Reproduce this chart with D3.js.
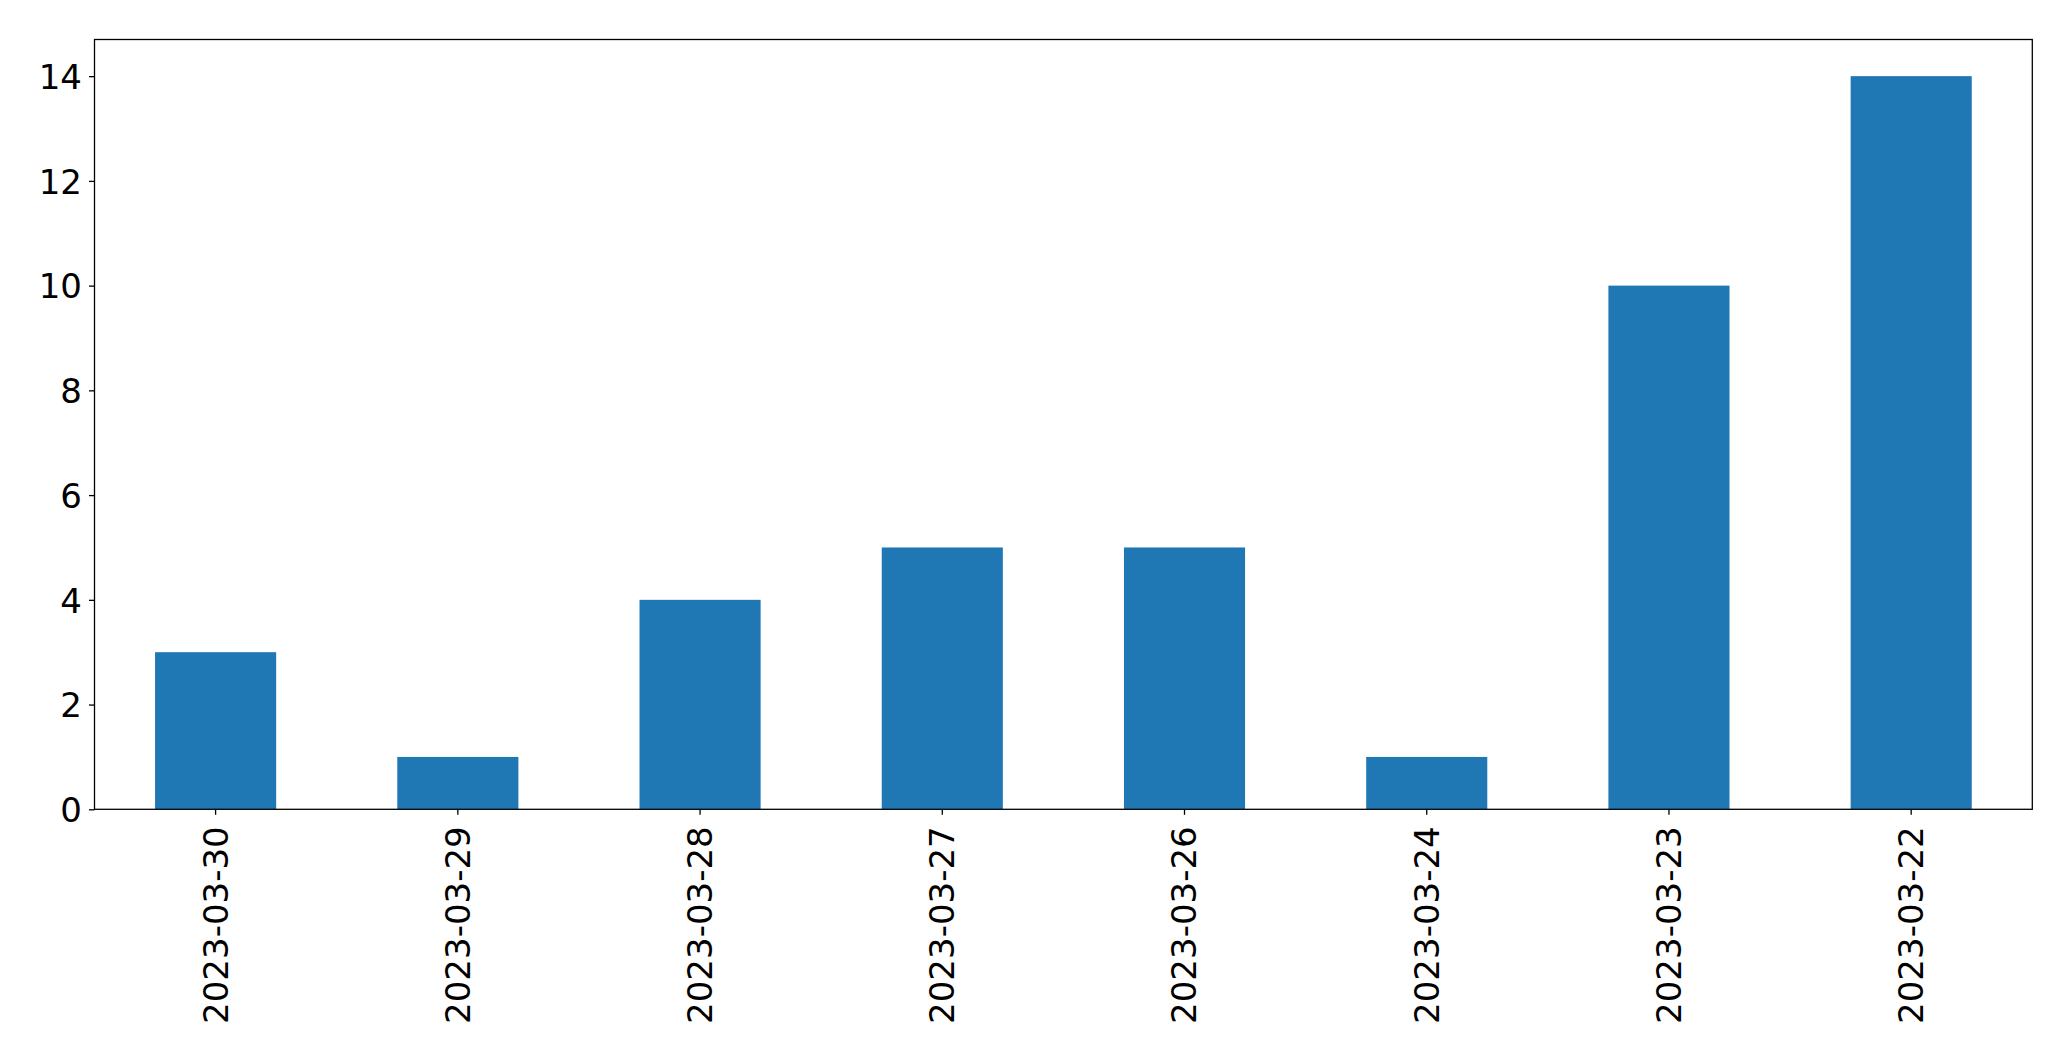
<!DOCTYPE html>
<html>
<head>
<meta charset="utf-8">
<script src="https://cdn.jsdelivr.net/npm/d3@7"></script>
<style>
  html, body { margin: 0; padding: 0; background: #fff; }
  svg { display: block; }
  text { font-family: "DejaVu Sans", sans-serif; fill: #000; }
</style>
</head>
<body>
<script>
const categories = ["2023-03-30", "2023-03-29", "2023-03-28", "2023-03-27", "2023-03-26", "2023-03-24", "2023-03-23", "2023-03-22"];
const values = [3, 1, 4, 5, 5, 1, 10, 14];
const yTicks = [0, 2, 4, 6, 8, 10, 12, 14];

const W = 2071, H = 1061;
const margin = { left: 94.5, right: W - 2032.3, top: 39.5, bottom: H - 809.3 };
const fontSize = 34;

const svg = d3.select("body").append("svg").attr("width", W).attr("height", H);

const x = d3.scaleBand()
  .domain(categories)
  .range([margin.left, W - margin.right])
  .paddingInner(0.5)
  .paddingOuter(0.25);

const yMax = d3.max(values) * 1.05;
const y = d3.scaleLinear().domain([0, yMax]).range([H - margin.bottom, margin.top]);

// bars
svg.append("g").selectAll("rect")
  .data(values)
  .join("rect")
  .attr("x", (d, i) => x(categories[i]))
  .attr("width", x.bandwidth())
  .attr("y", d => y(d))
  .attr("height", d => y(0) - y(d))
  .attr("fill", "#1f77b4");

// y axis
const yAxis = d3.axisLeft(y).tickValues(yTicks).tickSize(5.5).tickPadding(7).tickFormat(d3.format("d"));
const gy = svg.append("g").attr("transform", `translate(${margin.left},0)`).call(yAxis);
gy.select(".domain").remove();
gy.selectAll(".tick line").attr("stroke", "#000").attr("stroke-width", 1.3);
gy.selectAll(".tick text")
  .attr("font-size", fontSize)
  .attr("font-family", "DejaVu Sans")
  .attr("dy", "0.36em");

// x axis
const xAxis = d3.axisBottom(x).tickSize(5.5).tickPadding(0);
const gx = svg.append("g").attr("transform", `translate(0,${H - margin.bottom})`).call(xAxis);
gx.select(".domain").remove();
gx.selectAll(".tick line").attr("stroke", "#000").attr("stroke-width", 1.3);
gx.selectAll(".tick text")
  .attr("font-size", fontSize)
  .attr("font-family", "DejaVu Sans")
  .attr("transform", "rotate(-90)")
  .attr("text-anchor", "end")
  .attr("x", -17)
  .attr("y", 0)
  .attr("dy", "0.35em");

// frame
svg.append("rect")
  .attr("x", margin.left)
  .attr("y", margin.top)
  .attr("width", W - margin.right - margin.left)
  .attr("height", H - margin.bottom - margin.top)
  .attr("fill", "none")
  .attr("stroke", "#000")
  .attr("stroke-width", 1.3);
</script>
</body>
</html>
